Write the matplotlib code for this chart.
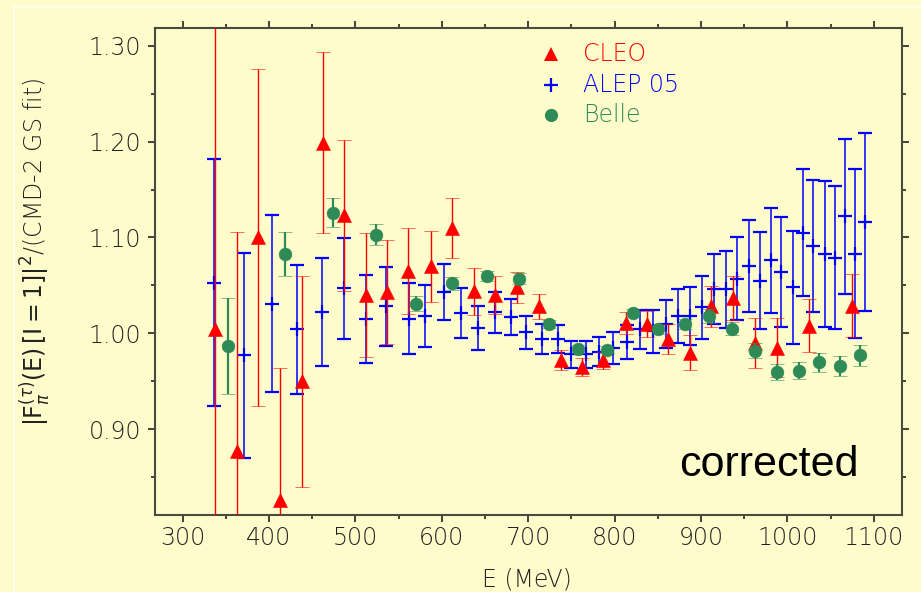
import numpy as np
import matplotlib
matplotlib.use("Agg")
import matplotlib.pyplot as plt
from matplotlib.lines import Line2D

plt.rcParams['font.family'] = ['DejaVu Sans']
plt.rcParams['mathtext.fontset'] = 'dejavusans'

# CLEO
cleo_e = [337, 363, 387, 413, 438, 462, 487, 512, 537, 561, 587, 612, 637, 662, 687,
          712, 738, 762, 787, 813, 838, 862, 887, 912, 937, 962, 988, 1025, 1075]
cleo_v = [1.005, 0.877, 1.100, 0.826, 0.950, 1.199, 1.123, 1.040, 1.043, 1.065, 1.070,
          1.110, 1.044, 1.040, 1.048, 1.028, 0.972, 0.965, 0.972, 1.011, 1.010, 0.994,
          0.980, 1.028, 1.037, 0.990, 0.985, 1.008, 1.029]
cleo_err = [0.33, 0.229, 0.176, 0.138, 0.11, 0.094, 0.079, 0.065, 0.054, 0.045, 0.037,
            0.031, 0.0245, 0.020, 0.016, 0.013, 0.0105, 0.0095, 0.009, 0.0115, 0.0135,
            0.0157, 0.0178, 0.021, 0.0228, 0.026, 0.031, 0.0275, 0.033]

# ALEPH 05
alep_e = [336, 371, 403, 433, 461, 487, 512, 536, 562, 581, 602, 622, 642, 662, 680,
          698, 716, 734, 750, 767, 782, 798, 814, 829, 844, 859, 873, 887, 901, 915,
          929, 942, 955, 968, 981, 993, 1006, 1018, 1030, 1043, 1055, 1067, 1078, 1090]
alep_v = [1.053, 0.977, 1.031, 1.004, 1.022, 1.047, 1.015, 1.028, 1.015, 1.018, 1.043,
          1.021, 1.006, 1.022, 1.017, 1.001, 0.994, 0.994, 0.978, 0.978, 0.981, 0.985,
          0.991, 1.004, 1.002, 1.010, 1.018, 1.018, 1.027, 1.046, 1.046, 1.057, 1.070,
          1.055, 1.076, 1.064, 1.048, 1.105, 1.091, 1.083, 1.079, 1.122, 1.083, 1.116]
alep_err = [0.129, 0.107, 0.092, 0.067, 0.0565, 0.0525, 0.0455, 0.041, 0.037, 0.032,
            0.029, 0.026, 0.023, 0.0215, 0.019, 0.017, 0.016, 0.015, 0.0145, 0.0145,
            0.0155, 0.0165, 0.018, 0.020, 0.022, 0.025, 0.028, 0.030, 0.033, 0.0365,
            0.040, 0.043, 0.048, 0.051, 0.055, 0.057, 0.059, 0.066, 0.069, 0.076,
            0.075, 0.081, 0.088, 0.093]

# Belle
belle_e = [353, 418, 474, 524, 570, 612, 652, 689, 724, 758, 791, 821, 850, 881, 909,
           936, 962, 988, 1013, 1037, 1061, 1084]
belle_v = [0.987, 1.083, 1.126, 1.103, 1.031, 1.052, 1.060, 1.057, 1.010, 0.984, 0.983,
           1.021, 1.004, 1.010, 1.018, 1.005, 0.982, 0.960, 0.961, 0.970, 0.966, 0.977]
belle_err = [0.050, 0.023, 0.015, 0.011, 0.008, 0.007, 0.0055, 0.006, 0.004, 0.004,
             0.004, 0.004, 0.005, 0.005, 0.007, 0.007, 0.008, 0.0085, 0.009, 0.010,
             0.0104, 0.0113]

bg = '#FFFCCC'
red = '#FF0000'
blue = '#0000FF'
green = '#2E8B57'
frame = '#4a4a40'
txt = '#222222'

fig = plt.figure(figsize=(9.21, 5.92), dpi=100, facecolor=bg)
ax = fig.add_axes([155/921, 1-515/592, 746.7/921, 487.3/592])
ax.set_facecolor(bg)

# faint light border round the picture
fig.add_artist(Line2D([14/921, 1], [1-7/592, 1-7/592], color='#FFFFF0', lw=1.2))
fig.add_artist(Line2D([14/921, 14/921], [0, 1-7/592], color='#FFFFF0', lw=1.2))

ax.errorbar(alep_e, alep_v, yerr=alep_err, fmt='+', color=blue, ms=9.5, mew=1.6,
            elinewidth=1.1, capsize=4.7, capthick=1.6, zorder=2)
ax.errorbar(cleo_e, cleo_v, yerr=cleo_err, fmt='^', color=red, ms=9.5, mew=0.4,
            elinewidth=1.0, capsize=4.7, capthick=1.3, zorder=3)
ax.errorbar(belle_e, belle_v, yerr=belle_err, fmt='o', color=green, ms=9.2, mew=0.4,
            elinewidth=1.6, capsize=5, capthick=2.2, zorder=4)

ax.set_xlim(268.1, 1132.3)
ax.set_ylim(0.8105, 1.3188)
ax.set_xticks(np.arange(300, 1101, 100))
ax.set_xticks(np.arange(300, 1131, 50), minor=True)
ax.set_yticks([0.90, 1.00, 1.10, 1.20, 1.30])
ax.set_yticks(np.arange(0.85, 1.31, 0.05), minor=True)
ax.set_yticklabels(['0.90', '1.00', '1.10', '1.20', '1.30'])
ax.tick_params(which='both', direction='out', top=True, right=True, colors='#222222',
               width=1.2, labelsize=17)
ax.tick_params(which='major', length=5)
ax.tick_params(which='minor', length=2.6)
ax.tick_params(axis='x', pad=3)
ax.tick_params(axis='y', pad=5)
for lab in ax.get_xticklabels() + ax.get_yticklabels():
    lab.set_color(txt)
    lab.set_fontweight('light')
for sp in ax.spines.values():
    sp.set_color(frame)
    sp.set_linewidth(1.5)

# legend
items = [('^', red, 'CLEO', 10, 0), ('+', blue, 'ALEP 05', 10, 1.6), ('o', green, 'Belle', 9.5, 0)]
rows = [0.946, 0.882, 0.821]
for (m, c, lab, ms, mew), yy in zip(items, rows):
    ax.plot([0.530], [yy], marker=m, color=c, ms=ms, mew=mew, ls='none',
            transform=ax.transAxes, clip_on=False)
    ax.text(0.573, yy, lab, color=c, fontsize=17, va='center', ha='left',
            transform=ax.transAxes, fontweight='light')

fig.text(769/921, 1-476/592, 'corrected', family='Liberation Sans', fontsize=31,
         ha='center', va='baseline', color='black')

fig.text(527/921, 1-580/592, 'E (MeV)', fontsize=17, ha='center', va='center',
         color=txt, fontweight='light')
fig.text(35/921, 1-252/592,
         r'$|\mathrm{F}_{\pi}^{(\tau)}\mathrm{(E)\,[I=1]}|^{2}$/(CMD-2 GS fit)',
         fontsize=17, rotation=90, ha='center', va='center', color=txt,
         fontweight='light')

fig.savefig('out.png', dpi=100, facecolor=bg)
